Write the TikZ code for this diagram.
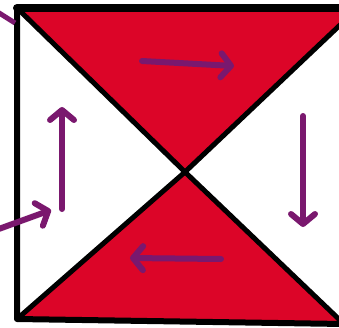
\documentclass[tikz,border=0pt]{standalone}
\usetikzlibrary{arrows.meta}
\definecolor{redfill}{RGB}{220,5,40}
\definecolor{purp}{RGB}{122,24,110}
\tikzset{
  edge/.style={line width=5pt, black, line cap=round, line join=round},
  parrow/.style={line width=6pt, purp, line cap=round,
    -{Straight Barb[length=10pt,width=24pt,line cap=round,line join=round]}},
  pline/.style={line width=5pt, purp}
}
\begin{document}
\begin{tikzpicture}[x=1pt,y=-1pt]
\useasboundingbox (0,0) rectangle (339,327);
\coordinate (TL) at (17,8);
\coordinate (TR) at (358,8);
\coordinate (BL) at (17,319);
\coordinate (BR) at (344,324);
\coordinate (C) at (185,172);
% red triangles
\fill[redfill] (TL) -- (TR) -- (C) -- cycle;
\fill[redfill] (BL) -- (BR) -- (C) -- cycle;
% diagonals
\draw[edge] (TL) -- (C) -- (BR);
\draw[edge] (BL) -- (C) -- (TR);
% border
\draw[edge, line width=6pt] (TL) -- (BL) -- (BR);
\draw[edge, line width=8pt] (TL) -- (TR);
% arrows
\coordinate (a1s) at (142,61); \coordinate (a1e) at (234,66);
\coordinate (a2s) at (303,116); \coordinate (a2e) at (303,227);
\coordinate (a3s) at (221,259); \coordinate (a3e) at (130,258);
\coordinate (a4s) at (62,209); \coordinate (a4e) at (62,107);
\coordinate (a5s) at (-4,230); \coordinate (a5e) at (51,210);
\coordinate (l6s) at (-4,11); \coordinate (l6e) at (15,23);
\draw[parrow] (a1s) -- (a1e);
\draw[parrow] (a2s) -- (a2e);
\draw[parrow] (a3s) -- (a3e);
\draw[parrow] (a4s) -- (a4e);
\draw[parrow] (a5s) -- (a5e);
\draw[pline] (l6s) -- (l6e);
\end{tikzpicture}
\end{document}
